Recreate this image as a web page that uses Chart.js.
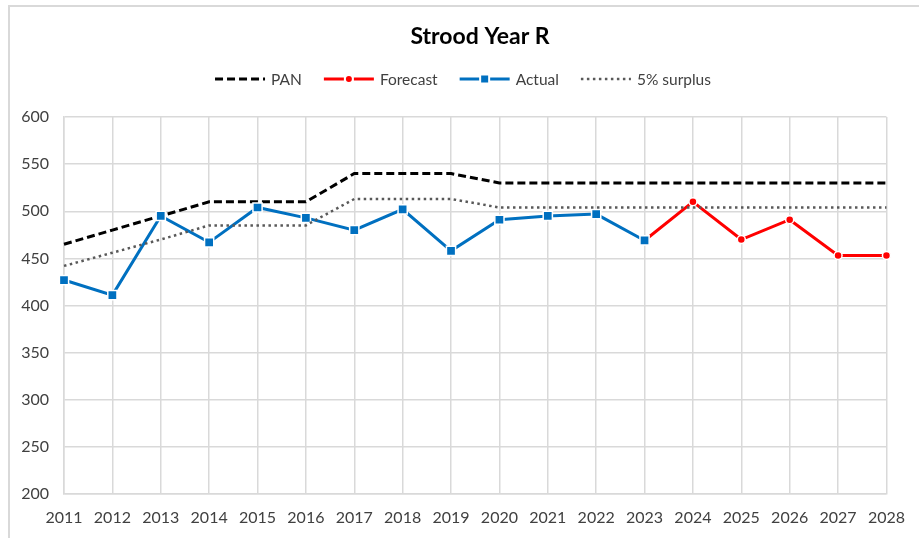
<!DOCTYPE html>
<html>
<head>
<meta charset="utf-8">
<script src="https://cdn.jsdelivr.net/npm/chart.js@4.4.1/dist/chart.umd.min.js"></script>
<style>
    html, body {
        margin: 0;
        padding: 0;
        background: #ffffff;
    }
    .wrap {
        position: relative;
        width: 919px;
        height: 538px;
        overflow: hidden;
    }
    .frame {
        position: absolute;
        left: 8px;
        top: 5px;
        width: 1000px;
        height: 600px;
        border-left: 2px solid #d9d9d9;
        border-top: 2px solid #d9d9d9;
    }
    canvas {
        position: absolute;
        left: 0;
        top: 0;
    }
</style>
</head>
<body>
<div class="wrap">
    <div class="frame"></div>
    <canvas id="chart" width="919" height="538"></canvas>
</div>
<script>
// Chart data
const chartTitle = 'Strood Year R';
const years = ['2011', '2012', '2013', '2014', '2015', '2016', '2017', '2018', '2019',
    '2020', '2021', '2022', '2023', '2024', '2025', '2026', '2027', '2028'];
const panValues = [465, 480, 495, 510, 510, 510, 540, 540, 540,
    530, 530, 530, 530, 530, 530, 530, 530, 530];
const forecastValues = [null, null, null, null, null, null, null, null, null,
    null, null, null, 469, 510, 470, 491, 453, 453];
const actualValues = [427, 411, 495, 467, 504, 493, 480, 502, 458,
    491, 495, 497, 469, null, null, null, null, null];
const surplusValues = [442, 456, 470, 485, 485, 485, 513, 513, 513,
    504, 504, 504, 504, 504, 504, 504, 504, 504];
const yTicks = [200, 250, 300, 350, 400, 450, 500, 550, 600];

const FONT = 'Lato, "Liberation Sans", sans-serif';
const GRID = '#d9d9d9';

// Draws the title and the legend the way Excel does (line + marker samples)
const headerPlugin = {
    id: 'header',
    afterDraw(chart) {
        const ctx = chart.ctx;
        ctx.save();

        ctx.fillStyle = '#000000';
        ctx.font = `bold 23px ${FONT}`;
        ctx.textAlign = 'center';
        ctx.textBaseline = 'middle';
        ctx.fillText(chartTitle, 480, 37);

        ctx.font = `15.5px ${FONT}`;
        ctx.textAlign = 'left';
        const lineLen = 50;
        const gap = 6;
        const spacing = 22;
        const items = chart.data.datasets.map((ds) => ({
            ds,
            width: lineLen + gap + ctx.measureText(ds.label).width
        }));
        const total = items.reduce((sum, it) => sum + it.width, 0) + spacing * (items.length - 1);
        let x = 463 - total / 2;
        const y = 79;

        items.forEach(({ ds, width }) => {
            ctx.strokeStyle = ds.borderColor;
            ctx.lineWidth = ds.borderWidth;
            ctx.setLineDash(ds.borderDash || []);
            ctx.beginPath();
            ctx.moveTo(x, y);
            ctx.lineTo(x + lineLen, y);
            ctx.stroke();
            ctx.setLineDash([]);

            if (ds.pointRadius > 0) {
                const cx = x + lineLen / 2;
                const r = ds.pointStyle === 'rect' ? 3.5 : 3;
                ctx.fillStyle = '#ffffff';
                ctx.fillRect(cx - r - 2, y - r - 2, 2 * r + 4, 2 * r + 4);
                ctx.fillStyle = ds.backgroundColor;
                if (ds.pointStyle === 'rect') {
                    ctx.fillRect(cx - r, y - r, 2 * r, 2 * r);
                } else {
                    ctx.beginPath();
                    ctx.arc(cx, y, r, 0, Math.PI * 2);
                    ctx.fill();
                }
            }

            ctx.fillStyle = '#404040';
            ctx.fillText(ds.label, x + lineLen + gap, y + 1);
            x += width + spacing;
        });

        ctx.restore();
    }
};

new Chart(document.getElementById('chart'), {
    type: 'line',
    data: {
        labels: years,
        datasets: [
            {
                label: 'PAN',
                data: panValues,
                borderColor: '#000000',
                backgroundColor: '#000000',
                borderWidth: 3,
                borderDash: [8, 4],
                pointRadius: 0,
                tension: 0,
                order: 4
            },
            {
                label: 'Forecast',
                data: forecastValues,
                borderColor: '#ff0000',
                backgroundColor: '#ff0000',
                borderWidth: 3,
                pointStyle: 'circle',
                pointRadius: 4,
                pointBorderColor: '#ffffff',
                pointBorderWidth: 1.5,
                tension: 0,
                order: 3
            },
            {
                label: 'Actual',
                data: actualValues,
                borderColor: '#0070c0',
                backgroundColor: '#0070c0',
                borderWidth: 3,
                pointStyle: 'rect',
                pointRadius: 6.5,
                pointBorderColor: '#ffffff',
                pointBorderWidth: 1.5,
                tension: 0,
                order: 2
            },
            {
                label: '5% surplus',
                data: surplusValues,
                borderColor: '#595959',
                backgroundColor: '#595959',
                borderWidth: 2.5,
                borderDash: [2.5, 3.5],
                pointRadius: 0,
                tension: 0,
                order: 1
            }
        ]
    },
    options: {
        responsive: false,
        animation: false,
        layout: {
            padding: { top: 117, right: 29, bottom: 0, left: 0 }
        },
        plugins: {
            legend: { display: false },
            title: { display: false },
            tooltip: { enabled: false }
        },
        scales: {
            x: {
                offset: false,
                grid: { color: GRID, lineWidth: 1.5, drawTicks: false },
                border: { color: GRID, width: 1.5 },
                ticks: {
                    color: '#404040',
                    font: { family: FONT, size: 16 },
                    padding: 14,
                    maxRotation: 0,
                    autoSkip: false
                },
                afterFit(scale) {
                    scale.height = 44;
                }
            },
            y: {
                min: yTicks[0],
                max: yTicks[yTicks.length - 1],
                afterBuildTicks(scale) {
                    scale.ticks = yTicks.map((v) => ({ value: v }));
                },
                grid: { color: GRID, lineWidth: 1.5, drawTicks: false },
                border: { color: GRID, width: 1.5 },
                ticks: {
                    color: '#404040',
                    font: { family: FONT, size: 16 },
                    padding: 15
                },
                afterFit(scale) {
                    scale.width = 64;
                }
            }
        }
    },
    plugins: [headerPlugin]
});
</script>
</body>
</html>
